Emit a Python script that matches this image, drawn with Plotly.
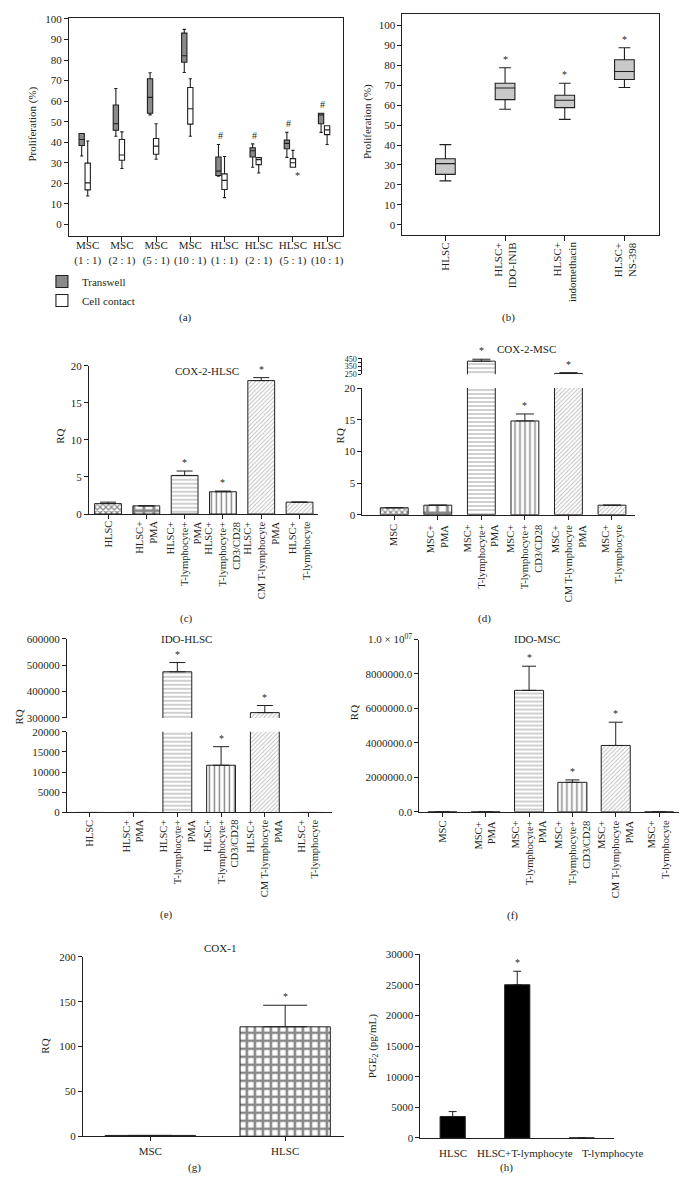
import plotly.graph_objects as go

FONT = "Liberation Serif"
INK = "#231f20"
W, H = 688, 1197

# ---------------- data ----------------
# (a) proliferation, box statistics
a_cats = ["MSC<br>(1 : 1)", "MSC<br>(2 : 1)", "MSC<br>(5 : 1)", "MSC<br>(10 : 1)",
          "HLSC<br>(1 : 1)", "HLSC<br>(2 : 1)", "HLSC<br>(5 : 1)", "HLSC<br>(10 : 1)"]
a_tw_lo = [33.3, 42.9, 53.3, 73.9, 23.5, 27.8, 32.6, 44.8]
a_tw_q1 = [38.4, 45.8, 54.1, 78.9, 23.8, 32.8, 36.8, 49.0]
a_tw_med = [41.3, 49.0, 61.8, 82.1, 25.9, 35.8, 39.4, 53.3]
a_tw_q3 = [44.2, 58.1, 70.9, 93.1, 32.8, 37.3, 41.0, 54.1]
a_tw_hi = [44.2, 66.1, 73.8, 94.9, 38.9, 39.2, 44.8, 54.1]
a_cc_lo = [13.8, 27.2, 31.7, 42.9, 13.0, 25.0, 27.8, 38.9]
a_cc_q1 = [16.8, 31.2, 34.1, 48.8, 17.0, 29.1, 27.8, 43.7]
a_cc_med = [20.2, 33.8, 38.1, 56.3, 21.4, 31.5, 30.0, 46.0]
a_cc_q3 = [29.8, 41.3, 41.8, 66.6, 24.6, 32.5, 32.0, 48.0]
a_cc_hi = [40.6, 45.0, 49.0, 70.9, 33.0, 32.5, 36.0, 48.0]
a_tw_mark = ["", "", "", "", "#", "#", "#", "#"]
a_cc_mark = ["", "", "", "", "", "", "*", ""]

# (b) proliferation with inhibitors
b_cats = ["HLSC", "HLSC+<br>IDO-INIB", "HLSC+<br>indomethacin", "HLSC+<br>NS-398"]
b_lo = [22.0, 58.0, 52.9, 68.9]
b_q1 = [25.3, 62.8, 58.8, 72.9]
b_med = [30.7, 68.6, 62.5, 76.9]
b_q3 = [33.1, 71.0, 65.0, 82.8]
b_hi = [40.2, 78.8, 71.0, 88.8]
b_mark = ["", "*", "*", "*"]

# (c) COX-2-HLSC
c_cats = ["HLSC", "HLSC+<br>PMA", "HLSC+<br>T-lymphocyte+<br>PMA",
          "HLSC+<br>T-lymphocyte+<br>CD3/CD28", "HLSC+<br>CM T-lymphocyte<br>PMA",
          "HLSC+<br>T-lymphocyte"]
c_vals = [1.4, 1.1, 5.2, 3.0, 18.0, 1.6]
c_errtop = [1.6, 1.1, 5.8, 3.1, 18.4, 1.6]
c_mark = ["", "", "*", "*", "*", ""]

# (d) COX-2-MSC
d_cats = ["MSC", "MSC+<br>PMA", "MSC+<br>T-lymphocyte+<br>PMA",
          "MSC+<br>T-lymphocyte+<br>CD3/CD28", "MSC+<br>CM T-lymphocyte<br>PMA",
          "MSC+<br>T-lymphocyte"]
d_vals = [1.1, 1.5, 420, 14.8, 262, 1.5]
d_errtop = [1.1, 1.5, 445, 15.9, 272, 1.5]
d_mark = ["", "", "*", "*", "*", ""]

# (e) IDO-HLSC
e_cats = c_cats
e_vals = [1, 1, 475000, 11700, 320000, 1]
e_errtop = [1, 1, 510000, 16300, 347000, 1]
e_mark = ["", "", "*", "*", "*", ""]

# (f) IDO-MSC
f_cats = d_cats
f_vals = [1, 1, 7050000, 1710000, 3850000, 1]
f_errtop = [1, 1, 8450000, 1850000, 5200000, 1]
f_mark = ["", "", "*", "*", "*", ""]
f_ticks = [0, 2000000, 4000000, 6000000, 8000000, 10000000]
f_ticktext = ["0.0", "2000000.0", "4000000.0", "6000000.0", "8000000.0", "1.0 × 10<sup>07</sup>"]

# (g) COX-1
g_cats = ["MSC", "HLSC"]
g_vals = [1, 122]
g_errtop = [1, 146]
g_mark = ["", "*"]

# (h) PGE2
h_cats = ["HLSC", "HLSC+T-lymphocyte", "T-lymphocyte"]
h_vals = [3500, 25000, 0]
h_errtop = [4300, 27200, 0]
h_mark = ["", "*", ""]

# bar fill patterns (style)
pat6_shape = ["x", "+", "-", "|", "/", "/"]
pat6_size = [4, 10, 4, 5, 3, 3]
pat6_sol = [0.5, 0.5, 0.25, 0.3, 0.3, 0.3]
pat6_fg = ["#111", "#111", "#444", "#111", "#777", "#777"]


def px_x(p):
    return p / W


def px_y(p):
    return 1 - p / H


fig = go.Figure()

base_axis = dict(showline=True, linecolor=INK, linewidth=1, ticks="outside", ticklen=4,
                 tickcolor=INK, showgrid=False, zeroline=False, fixedrange=True,
                 tickfont=dict(family=FONT, size=11, color=INK))


def ax(**kw):
    d = dict(base_axis)
    d.update(kw)
    return d


# ---------- (a) ----------
fig.add_trace(go.Box(x=a_cats, lowerfence=a_tw_lo, q1=a_tw_q1, median=a_tw_med, q3=a_tw_q3,
                     upperfence=a_tw_hi, name="Transwell", fillcolor="#8a8a8a",
                     line=dict(color=INK, width=1.1), whiskerwidth=0.6, boxpoints=False,
                     xaxis="x", yaxis="y", legendgroup="a"))
fig.add_trace(go.Box(x=a_cats, lowerfence=a_cc_lo, q1=a_cc_q1, median=a_cc_med, q3=a_cc_q3,
                     upperfence=a_cc_hi, name="Cell contact", fillcolor="#ffffff",
                     line=dict(color=INK, width=1.1), whiskerwidth=0.6, boxpoints=False,
                     xaxis="x", yaxis="y", legendgroup="a"))

# ---------- (b) ----------
fig.add_trace(go.Box(x=b_cats, lowerfence=b_lo, q1=b_q1, median=b_med, q3=b_q3,
                     upperfence=b_hi, name="b", fillcolor="#c9c9c9", width=0.33,
                     line=dict(color=INK, width=1.1), whiskerwidth=0.6, boxpoints=False,
                     xaxis="x2", yaxis="y2", showlegend=False))


def bar(cats, vals, errtop, xa, ya, width, cap, pattern=True, color="white"):
    marker = dict(color=color, line=dict(color=INK, width=1))
    if pattern:
        marker["pattern"] = dict(shape=pat6_shape[:len(vals)], size=pat6_size[:len(vals)],
                                 solidity=pat6_sol[:len(vals)], fgcolor=pat6_fg[:len(vals)],
                                 bgcolor="white", fillmode="overlay")
    return go.Bar(x=cats, y=vals, width=width, marker=marker, xaxis=xa, yaxis=ya,
                  showlegend=False,
                  error_y=dict(type="data", symmetric=False,
                               array=[t - v for t, v in zip(errtop, vals)],
                               arrayminus=[0] * len(vals), color=INK, thickness=1, width=cap))


# (c)
fig.add_trace(bar(c_cats, c_vals, c_errtop, "x3", "y3", 0.70, 8))
# (d) lower + upper
fig.add_trace(bar(d_cats, d_vals, d_errtop, "x4", "y4", 0.64, 9))
fig.add_trace(bar(d_cats, d_vals, d_errtop, "x4", "y5", 0.64, 9))
# (e) lower + upper
fig.add_trace(bar(e_cats, e_vals, e_errtop, "x5", "y6", 0.66, 8))
fig.add_trace(bar(e_cats, e_vals, e_errtop, "x5", "y7", 0.66, 8))
# (f)
fig.add_trace(bar(f_cats, f_vals, f_errtop, "x6", "y8", 0.67, 7))
# (g)
g_bar = go.Bar(x=g_cats, y=g_vals, width=0.67, xaxis="x7", yaxis="y9", showlegend=False,
               marker=dict(color="white", line=dict(color=INK, width=1),
                           pattern=dict(shape="+", size=8, solidity=0.55, fgcolor="#111",
                                        bgcolor="white")),
               error_y=dict(type="data", symmetric=False,
                            array=[t - v for t, v in zip(g_errtop, g_vals)],
                            arrayminus=[0] * len(g_vals), color=INK, thickness=1, width=22))
fig.add_trace(g_bar)
# (h)
fig.add_trace(bar(h_cats, h_vals, h_errtop, "x8", "y10", 0.39, 4, pattern=False, color="black"))

# ---------- axes ----------
lay = {}
lay["xaxis"] = ax(domain=[px_x(69), px_x(343)], anchor="y", range=[-0.55, 7.45], mirror=True,
                  ticklen=5, ticklabelstandoff=-6)
lay["yaxis"] = ax(domain=[px_y(231), px_y(10)], anchor="x", range=[-5.8, 100.5], dtick=10, tick0=0,
                  mirror=True)
lay["xaxis2"] = ax(domain=[px_x(403), px_x(660)], anchor="y2", range=[-0.72, 3.58], mirror=True,
                   showticklabels=False, ticklen=5)
lay["yaxis2"] = ax(domain=[px_y(230), px_y(6)], anchor="x2", range=[-5.3, 105.8], dtick=10, tick0=0,
                   mirror=True)
lay["xaxis3"] = ax(domain=[px_x(89), px_x(318)], anchor="y3", range=[-0.5, 5.47],
                   showticklabels=False)
lay["yaxis3"] = ax(domain=[px_y(512), px_y(362)], anchor="x3", range=[0, 20], dtick=5)
lay["xaxis4"] = ax(domain=[px_x(363), px_x(636)], anchor="y4", range=[-0.73, 5.53],
                   showticklabels=False)
lay["yaxis4"] = ax(domain=[px_y(512.7), px_y(384.5)], anchor="x4", range=[0, 20], dtick=5)
lay["yaxis5"] = ax(domain=[px_y(370.7), px_y(354.2)], anchor="x4", range=[250, 460],
                   tickvals=[250, 300, 350, 400, 450], ticktext=["250", "", "350", "", "450"],
                   ticklen=3, tickfont=dict(family=FONT, size=8, color=INK))
lay["xaxis5"] = ax(domain=[px_x(67), px_x(332)], anchor="y6", range=[-0.525, 5.525],
                   showticklabels=False)
lay["yaxis6"] = ax(domain=[px_y(814), px_y(732.3)], anchor="x5", range=[0, 20000], dtick=5000,
                   tickformat="d")
lay["yaxis7"] = ax(domain=[px_y(718.3), px_y(638.3)], anchor="x5", range=[300000, 600000],
                   dtick=100000, tick0=0, tickformat="d")
lay["xaxis6"] = ax(domain=[px_x(420), px_x(680)], anchor="y8", range=[-0.53, 5.46],
                   showticklabels=False)
lay["yaxis8"] = ax(domain=[px_y(813.3), px_y(639)], anchor="x6", range=[0, 10000000],
                   tickvals=f_ticks, ticktext=f_ticktext)
lay["xaxis7"] = ax(domain=[px_x(83), px_x(345)], anchor="y9", range=[-0.5, 1.44])
lay["yaxis9"] = ax(domain=[px_y(1141.7), px_y(960)], anchor="x7", range=[0, 200], dtick=50)
lay["xaxis8"] = ax(domain=[px_x(421), px_x(615)], anchor="y10", range=[-0.5, 2.5], ticks="",
                   showticklabels=False)
lay["yaxis10"] = ax(domain=[px_y(1143.3), px_y(957.3)], anchor="x8", range=[0, 30000], dtick=5000,
                    tickformat="d")

# ---------- annotations ----------
ann = []


def text(x, y, s, size=11, angle=0, xanchor="center", yanchor="middle"):
    ann.append(dict(x=px_x(x), y=px_y(y), xref="paper", yref="paper", text=s, showarrow=False,
                    textangle=angle, xanchor=xanchor, yanchor=yanchor,
                    font=dict(family=FONT, size=size, color=INK)))


# axis titles
text(33, 117, "Proliferation (%)", angle=-90)
text(368, 115, "Proliferation (%)", angle=-90)
text(60, 433, "RQ", angle=-90)
text(340, 433, "RQ", angle=-90)
text(19, 717, "RQ", angle=-90)
text(354, 713, "RQ", angle=-90)
text(45, 1050, "RQ", angle=-90)
text(373, 1050, "PGE<sub>2</sub> (pg/mL)", angle=-90)
# chart titles
text(207, 367, "COX-2-HLSC")
text(527, 345, "COX-2-MSC")
text(187, 638, "IDO-HLSC")
text(538, 638, "IDO-MSC")
text(220, 951, "COX-1")
# panel letters
for lx, ly, s in [(186, 313, "(a)"), (509, 313, "(b)"), (187, 618, "(c)"), (485, 618, "(d)"),
                  (167, 917, "(e)"), (513, 918, "(f)"), (195, 1173, "(g)"), (507, 1173, "(h)")]:
    text(lx, ly, s)


# rotated category labels, line ends aligned next to the axis
def cat_labels(cats, xref, top_px, size=10.5):
    for c in cats:
        ann.append(dict(x=c, y=px_y(top_px), xref=xref, yref="paper", text=c, showarrow=False,
                        textangle=-90, xanchor="center", yanchor="top", align="right",
                        font=dict(family=FONT, size=size, color=INK)))


cat_labels(b_cats, "x2", 235, size=11)
cat_labels(c_cats, "x3", 517)
cat_labels(d_cats, "x4", 520)
cat_labels(e_cats, "x5", 819)
cat_labels(f_cats, "x6", 820)

# (h) category labels (Excel-style placement: the last one starts at its category)
h_anchor = ["center", "center", "left"]
h_shift = [0, 8, -2]
for c, a_, s_ in zip(h_cats, h_anchor, h_shift):
    ann.append(dict(x=c, y=px_y(1150), xref="x8", yref="paper", text=c, showarrow=False,
                    xanchor=a_, yanchor="top", xshift=s_,
                    font=dict(family=FONT, size=11, color=INK)))


def marks(cats, tops, labels, xref, yref, xshift=0, below=False, size=10):
    for c, t, m in zip(cats, tops, labels):
        if not m:
            continue
        ann.append(dict(x=c, y=t, xref=xref, yref=yref, text=m, showarrow=False,
                        xshift=xshift, yshift=-1 if below else 1,
                        yanchor="top" if below else "bottom",
                        font=dict(family=FONT, size=size, color=INK)))


marks(a_cats, a_tw_hi, a_tw_mark, "x", "y", xshift=-4.5)
marks(a_cats, a_cc_lo, a_cc_mark, "x", "y", xshift=4.5, below=True)
marks(b_cats, b_hi, b_mark, "x2", "y2")
marks(c_cats, c_errtop, c_mark, "x3", "y3")
for c, t, m in zip(d_cats, d_errtop, d_mark):
    marks([c], [t], [m], "x4", "y5" if t > 20 else "y4")
for c, t, m in zip(e_cats, e_errtop, e_mark):
    marks([c], [t], [m], "x5", "y7" if t > 20000 else "y6")
marks(f_cats, f_errtop, f_mark, "x6", "y8")
marks(g_cats, g_errtop, g_mark, "x7", "y9")
marks(h_cats, h_errtop, h_mark, "x8", "y10")

fig.update_layout(
    width=W, height=H, margin=dict(l=0, r=0, t=0, b=0), autosize=False,
    paper_bgcolor="white", plot_bgcolor="white",
    font=dict(family=FONT, size=11, color=INK),
    boxmode="group", boxgap=0.47, boxgroupgap=0.12,
    legend=dict(x=px_x(42), y=px_y(262), xanchor="left", yanchor="top",
                bgcolor="rgba(0,0,0,0)", font=dict(family=FONT, size=11, color=INK),
                tracegroupgap=0, itemwidth=30),
    annotations=ann,
    **lay,
)

fig.write_html("out.html", config={"displayModeBar": False},
               post_script="document.body.style.margin='0';")
